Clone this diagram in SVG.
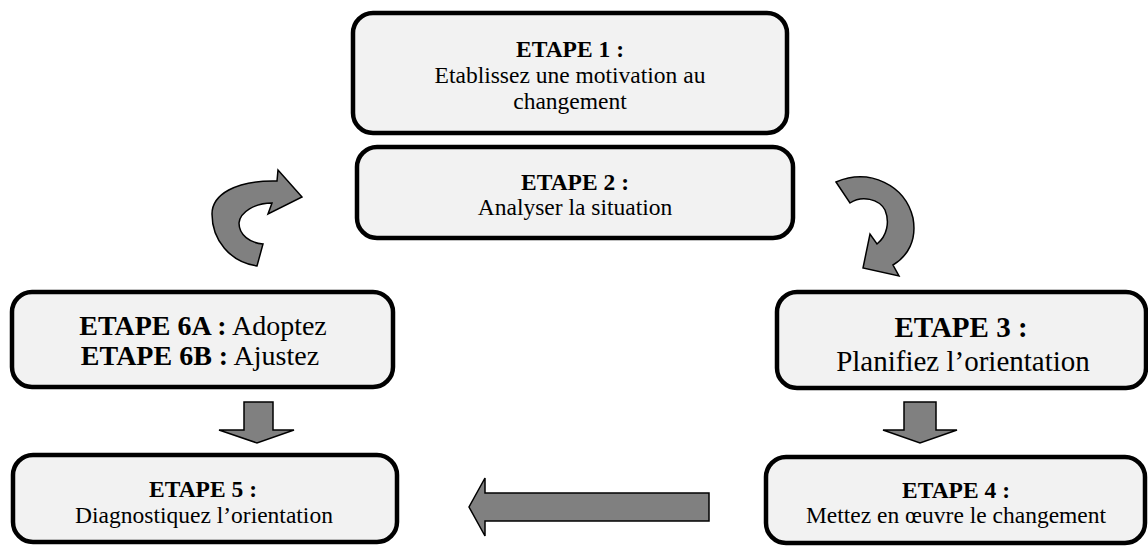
<svg xmlns="http://www.w3.org/2000/svg" width="1148" height="546" viewBox="0 0 1148 546">
<style>
.box{fill:#f2f2f2;stroke:#000;stroke-width:4.5}
.t{font-family:"Liberation Serif","Times New Roman",serif;fill:#000;text-anchor:middle}
.b{font-weight:bold}
.s{font-size:23.5px}
.l{font-size:28px}
.arr{fill:#808080;stroke:#000;stroke-width:1.5;stroke-linejoin:miter}
</style>
<rect width="1148" height="546" fill="#fff"/>
<g id="connectors">
<path class="arr" d="M257,266 C230,262 212,240 212,214 C212,195 235,180 277,181 L278,170 L302,197 L268,214 L272,203 C255,203 240,212 239,223 C239,235 250,243 263,244 Z"/>
<path class="arr" d="M836,182 C870,168 905,185 913,218 C917,240 908,256 893,265 L899,276 L863,268 L870,234 L877,244 C887,236 890,222 885,210 C879,199 862,195 850,203 Z"/>
<path class="arr" d="M244,402 L273,402 L273,430 L294,430 L257,443 L219,430 L244,430 Z"/>
<path class="arr" d="M904,402 L936,402 L936,430 L957,430 L920,443 L883,430 L904,430 Z"/>
<path class="arr" d="M709,493 L485,493 L485,478 L469,507 L485,536 L485,521 L709,521 Z"/>
</g>
<g id="etape1">
<rect class="box" x="353" y="13" width="434" height="120" rx="20"/>
<text class="t s b" x="570" y="57">ETAPE 1 :</text>
<text class="t s" x="570" y="83">Etablissez une motivation au</text>
<text class="t s" x="570" y="109">changement</text>
</g>
<g id="etape2">
<rect class="box" x="357" y="147" width="436" height="91" rx="20"/>
<text class="t s b" x="575" y="190">ETAPE 2 :</text>
<text class="t s" x="575" y="215">Analyser la situation</text>
</g>
<g id="etape3">
<rect class="box" x="777" y="292" width="369" height="96" rx="20"/>
<text class="t b" style="font-size:29px" x="961" y="337">ETAPE 3 :</text>
<text class="t" style="font-size:29px" x="963" y="371">Planifiez l’orientation</text>
</g>
<g id="etape4">
<rect class="box" x="766" y="457" width="379" height="86" rx="20"/>
<text class="t s b" x="956" y="498">ETAPE 4 :</text>
<text class="t s" x="956" y="523">Mettez en œuvre le changement</text>
</g>
<g id="etape5">
<rect class="box" x="13" y="455" width="384" height="87" rx="20"/>
<text class="t s b" x="203" y="497">ETAPE 5 :</text>
<text class="t s" x="204" y="523">Diagnostiquez l’orientation</text>
</g>
<g id="etape6">
<rect class="box" x="12" y="292" width="381" height="95" rx="20"/>
<text class="t l" x="203" y="335"><tspan class="b">ETAPE 6A :</tspan> Adoptez</text>
<text class="t l" x="200" y="365"><tspan class="b">ETAPE 6B :</tspan> Ajustez</text>
</g>
</svg>
